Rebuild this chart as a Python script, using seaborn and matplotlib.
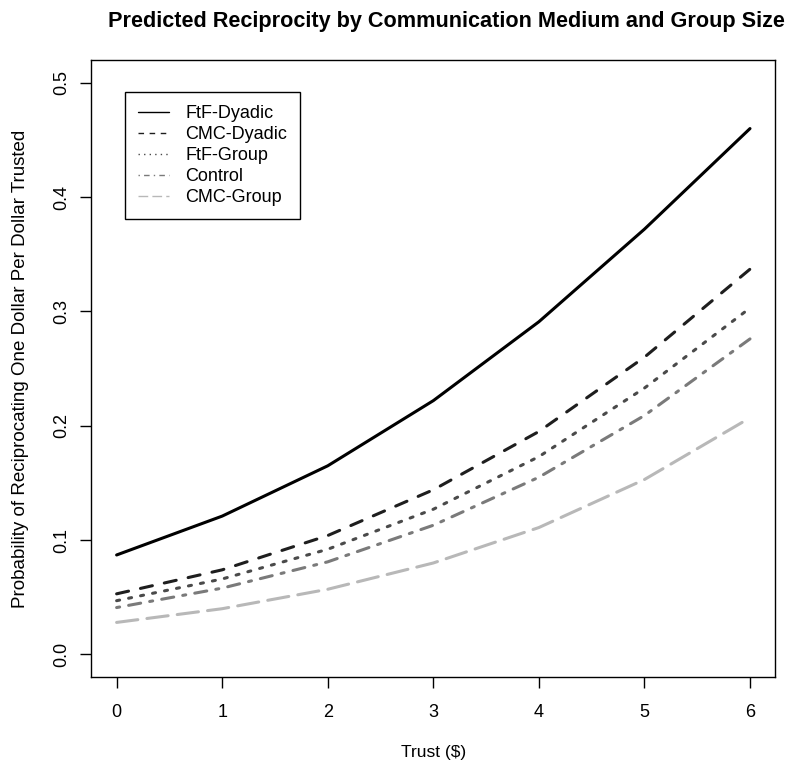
import matplotlib
matplotlib.use("Agg")
import matplotlib.pyplot as plt
from matplotlib.lines import Line2D
import pandas as pd
import seaborn as sns

# predicted probabilities
trust = [0, 1, 2, 3, 4, 5, 6]
ftf_dyadic = [0.087, 0.121, 0.165, 0.222, 0.291, 0.372, 0.460]
cmc_dyadic = [0.053, 0.074, 0.104, 0.144, 0.195, 0.260, 0.337]
ftf_group = [0.047, 0.066, 0.092, 0.127, 0.173, 0.233, 0.303]
control = [0.041, 0.058, 0.081, 0.113, 0.155, 0.209, 0.276]
cmc_group = [0.028, 0.040, 0.057, 0.080, 0.111, 0.153, 0.207]

groups = ["FtF-Dyadic", "CMC-Dyadic", "FtF-Group", "Control", "CMC-Group"]
series = [ftf_dyadic, cmc_dyadic, ftf_group, control, cmc_group]

colors = {
    "FtF-Dyadic": "#000000",
    "CMC-Dyadic": "#1e1e1e",
    "FtF-Group": "#4a4a4a",
    "Control": "#7a7a7a",
    "CMC-Group": "#b8b8b8",
}
# R-style lty patterns: dashed, dotted, dotdash, longdash
dash_styles = {
    "FtF-Dyadic": "",
    "CMC-Dyadic": (4, 4),
    "FtF-Group": (1, 3),
    "Control": (1, 3, 4, 3),
    "CMC-Group": (7, 3),
}

rows = []
for name, values in zip(groups, series):
    for x, y in zip(trust, values):
        rows.append({"trust": x, "prob": y, "group": name})
df = pd.DataFrame(rows)

sns.set_style("ticks")
plt.rcParams["font.family"] = ["Liberation Sans", "DejaVu Sans"]
plt.rcParams["text.color"] = "black"
plt.rcParams["axes.labelcolor"] = "black"

fig = plt.figure(figsize=(7.91, 7.66), dpi=100)
ax = fig.add_axes([0.1154, 0.1158, 0.8648, 0.8059])

sns.lineplot(
    data=df, x="trust", y="prob", hue="group", style="group",
    hue_order=groups, style_order=groups,
    palette=colors, dashes=dash_styles, linewidth=2.2,
    legend=False, ax=ax,
)
for line in ax.get_lines():
    line.set_dash_capstyle("round")
    line.set_solid_capstyle("round")

ax.set_xlim(-0.24, 6.24)
ax.set_ylim(-0.02, 0.52)
ax.set_xticks(trust)
ax.set_yticks([0.0, 0.1, 0.2, 0.3, 0.4, 0.5])
ax.set_yticklabels(["0.0", "0.1", "0.2", "0.3", "0.4", "0.5"], rotation=90, va="center")
ax.tick_params(axis="both", direction="out", length=8, width=1, color="black",
               labelsize=13, labelcolor="black")
ax.tick_params(axis="x", pad=11)
ax.tick_params(axis="y", pad=7)
for spine in ax.spines.values():
    spine.set_color("black")
    spine.set_linewidth(1)

ax.set_xlabel("Trust ($)", fontsize=12.5, va="center", color="black")
ax.xaxis.set_label_coords(0.5, -0.122)
ax.set_ylabel("Probability of Reciprocating One Dollar Per Dollar Trusted",
              fontsize=13.5, va="center", color="black")
ax.yaxis.set_label_coords(-0.103, 0.5)
fig.text(0.564, 1 - 27 / 766, "Predicted Reciprocity by Communication Medium and Group Size",
         ha="center", va="baseline", fontsize=15.6, fontweight="bold", color="black")

handles = [
    Line2D([0], [0], color=colors[g], lw=1,
           linestyle="-" if dash_styles[g] == "" else (0, dash_styles[g]))
    for g in groups
]
leg = ax.legend(handles, groups, loc="upper left", bbox_to_anchor=(0.0493, 0.9482),
                fontsize=13, frameon=True, fancybox=False, edgecolor="black",
                handlelength=1.72, handletextpad=0.89, labelspacing=0.22,
                borderpad=0.72, borderaxespad=0)
leg.get_frame().set_linewidth(1)
leg.get_frame().set_alpha(1)
for text in leg.get_texts():
    text.set_color("black")

fig.savefig("out.png", dpi=100)
